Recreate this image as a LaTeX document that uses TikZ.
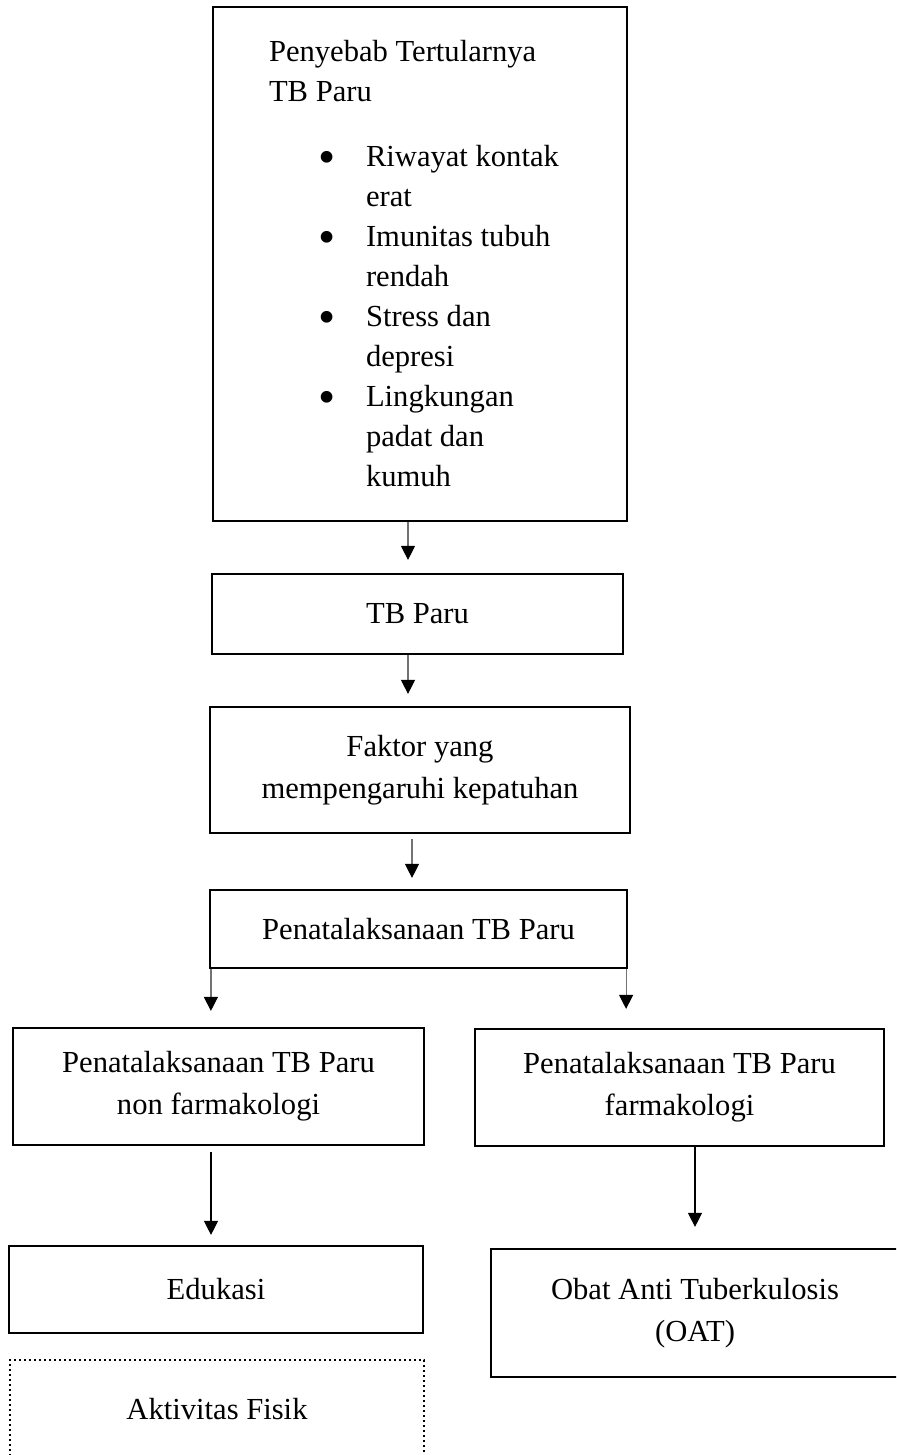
\documentclass[tikz,border=0pt]{standalone}
\usepackage{fontspec}
\setmainfont{Liberation Serif}
\usepackage{tikz}
\usetikzlibrary{positioning,arrows.meta}

\newcommand{\butir}[1]{\hspace*{24.5pt}\makebox[24pt][l]{\raisebox{-3.2pt}{\scalebox{1.6}{\textbullet}}}#1}
\newcommand{\lanjut}[1]{\hspace*{48.5pt}#1}

\begin{document}
\begin{tikzpicture}[x=0.5pt, y=-0.5pt, semithick,
        font=\fontsize{15.3pt}{21pt}\selectfont,
        kotak/.style = {draw, rectangle, line width=1.1pt, align=center, inner sep=0pt},
        titik/.style = {draw, rectangle, line width=1pt, dash pattern=on 1pt off 1.5pt, align=center, inner sep=0pt},
        panah/.style = {-{Triangle[length=7pt, width=7pt, color=black]}, line width=0.6pt},
        abu/.style = {panah, draw=black!55}]
            \useasboundingbox (0,0) rectangle (896,1455);
            \clip (0,0) rectangle (896,1455);
            \node[kotak, minimum width=207pt, minimum height=257pt, text width=151pt, align=flush left, inner xsep=28pt,
                font=\fontsize{15.3pt}{20pt}\selectfont] (sebab) at (420,264)
                {Penyebab Tertularnya\\TB Paru\\[12.5pt]
                 \butir{Riwayat kontak}\\ \lanjut{erat}\\
                 \butir{Imunitas tubuh}\\ \lanjut{rendah}\\
                 \butir{Stress dan}\\ \lanjut{depresi}\\
                 \butir{Lingkungan}\\ \lanjut{padat dan}\\ \lanjut{kumuh}};
            \node[kotak, minimum width=205.5pt, minimum height=40pt] (tb) at (417.5,614) {TB Paru};
            \node[kotak, minimum width=210pt, minimum height=63pt] (faktor) at (420,770) {Faktor yang\\mempengaruhi kepatuhan};
            \node[kotak, minimum width=208.5pt, minimum height=39pt] (tata) at (418.5,929) {Penatalaksanaan TB Paru};
            \node[kotak, minimum width=205.5pt, minimum height=58.5pt] (nonfar) at (218.5,1086.5) {Penatalaksanaan TB Paru\\non farmakologi};
            \node[kotak, minimum width=204.5pt, minimum height=58.5pt] (far) at (679.5,1087.5) {Penatalaksanaan TB Paru\\farmakologi};
            \node[kotak, minimum width=207pt, minimum height=43.5pt] (edu) at (216,1289.5) {Edukasi};
            \node[titik, minimum width=207pt, minimum height=49pt] (fisik) at (217,1409) {Aktivitas Fisik};
            \node[kotak, minimum width=204pt, minimum height=64pt] (oat) at (695,1313) {Obat Anti Tuberkulosis\\(OAT)};
            % alur utama
            \draw[abu, shorten >=6.5pt] ([xshift=-6pt]sebab.south) -- ([xshift=-6pt]sebab.south |- tb.north);
            \draw[abu, shorten >=6pt] ([xshift=-4.75pt]tb.south) -- ([xshift=-4.75pt]tb.south |- faktor.north);
            \draw[abu, shorten <=2.5pt, shorten >=5.5pt] ([xshift=-4pt]faktor.south) -- ([xshift=-4pt]faktor.south |- tata.north);
            \draw[abu, shorten >=8pt] ([xshift=1pt]tata.south west) -- ([xshift=1pt]tata.south west |- nonfar.north);
            \draw[abu, shorten >=9.5pt] ([xshift=-1pt]tata.south east) -- ([xshift=-1pt]tata.south east |- far.north);
            % cabang bawah
            \draw[panah, shorten <=3pt, shorten >=5pt] ([xshift=-3.75pt]nonfar.south) -- ([xshift=-3.75pt]nonfar.south |- edu.north);
            \draw[panah, shorten >=10.5pt] ([xshift=7.75pt]far.south) -- ([xshift=7.75pt]far.south |- oat.north);
        \end{tikzpicture}
\end{document}
